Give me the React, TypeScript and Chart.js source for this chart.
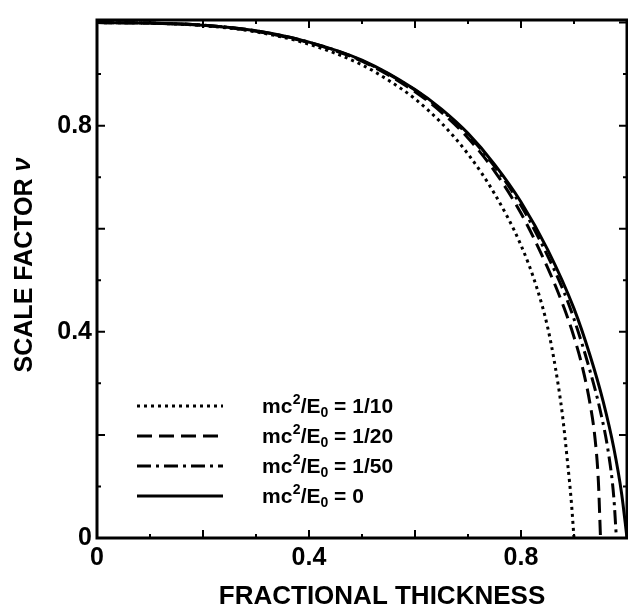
import { useEffect, useRef } from "react";
import { Chart, registerables } from "chart.js";

Chart.register(...registerables);

// ---- data ----
const seriesLabels = ["1/10", "1/20", "1/50", "0"];

const thicknessA = [0, 0.1, 0.2, 0.3, 0.4, 0.5, 0.55, 0.6, 0.65, 0.7, 0.75, 0.8, 0.83, 0.85, 0.865, 0.878, 0.888, 0.895, 0.9];
const scaleA = [1.0, 0.999, 0.994, 0.982, 0.958, 0.918, 0.888, 0.852, 0.805, 0.745, 0.668, 0.568, 0.485, 0.41, 0.33, 0.24, 0.145, 0.07, 0];

const thicknessB = [0, 0.1, 0.2, 0.3, 0.4, 0.5, 0.6, 0.65, 0.7, 0.75, 0.8, 0.85, 0.88, 0.9, 0.915, 0.93, 0.94, 0.946, 0.95];
const scaleB = [1.0, 0.999, 0.995, 0.983, 0.961, 0.925, 0.866, 0.826, 0.776, 0.712, 0.63, 0.525, 0.45, 0.39, 0.335, 0.262, 0.19, 0.11, 0];

const thicknessC = [0, 0.1, 0.2, 0.3, 0.4, 0.5, 0.6, 0.65, 0.7, 0.75, 0.8, 0.85, 0.88, 0.9, 0.93, 0.95, 0.965, 0.975, 0.98];
const scaleC = [1.0, 0.999, 0.995, 0.984, 0.962, 0.926, 0.869, 0.83, 0.782, 0.721, 0.645, 0.548, 0.48, 0.425, 0.325, 0.245, 0.165, 0.08, 0];

const thicknessD = [0, 0.1, 0.2, 0.3, 0.4, 0.5, 0.6, 0.65, 0.7, 0.75, 0.8, 0.85, 0.9, 0.93, 0.955, 0.975, 0.99, 1.0];
const scaleD = [1.0, 0.999, 0.995, 0.984, 0.962, 0.927, 0.87, 0.832, 0.785, 0.725, 0.652, 0.56, 0.445, 0.355, 0.265, 0.175, 0.085, 0];

const xTickLabels = [0, 0.4, 0.8];
const yTickLabels = [0, 0.4, 0.8];
const xTitle = "FRACTIONAL THICKNESS";
const yTitle = "SCALE FACTOR";
const yTitleSymbol = "\u03BD";

const dashes = [[3, 4], [15, 7], [14, 5, 3, 5], []];

const FONT = "'Liberation Sans', Arial, sans-serif";

function pts(xs: number[], ys: number[]) {
  return xs.map((x, i) => ({ x, y: ys[i] }));
}

const overlay = {
  id: "overlay",
  afterDraw(chart: any) {
    const { ctx, chartArea: a, scales } = chart;
    const xs = scales.x;
    const ys = scales.y;
    ctx.save();
    ctx.strokeStyle = "#000";
    ctx.fillStyle = "#000";
    ctx.lineWidth = 3;
    ctx.setLineDash([]);
    ctx.strokeRect(a.left, a.top, a.right - a.left, a.bottom - a.top);
    // inward ticks on all four sides
    ctx.lineWidth = 2;
    for (let i = 0; i <= 10; i++) {
      const v = i / 10;
      const len = i % 2 === 0 ? 8 : 4;
      const px = xs.getPixelForValue(v);
      const py = ys.getPixelForValue(v);
      ctx.beginPath();
      ctx.moveTo(px, a.bottom);
      ctx.lineTo(px, a.bottom - len);
      ctx.moveTo(px, a.top);
      ctx.lineTo(px, a.top + len);
      ctx.moveTo(a.left, py);
      ctx.lineTo(a.left + len, py);
      ctx.moveTo(a.right, py);
      ctx.lineTo(a.right - len, py);
      ctx.stroke();
    }
    // legend
    const rowTop = a.top + 386;
    const rowStep = 30;
    seriesLabels.forEach((lab, i) => {
      const ry = rowTop + i * rowStep;
      ctx.lineWidth = 3;
      ctx.setLineDash(dashes[i]);
      ctx.beginPath();
      ctx.moveTo(a.left + 40, ry);
      ctx.lineTo(a.left + 126, ry);
      ctx.stroke();
      ctx.setLineDash([]);
      let tx = a.left + 165;
      const base = ry + 7;
      ctx.textBaseline = "alphabetic";
      ctx.textAlign = "left";
      ctx.font = `bold 21px ${FONT}`;
      ctx.fillText("mc", tx, base);
      tx += ctx.measureText("mc").width;
      ctx.font = `bold 14px ${FONT}`;
      ctx.fillText("2", tx + 0.5, base - 9);
      tx += ctx.measureText("2").width + 0.5;
      ctx.font = `bold 21px ${FONT}`;
      ctx.fillText("/E", tx, base);
      tx += ctx.measureText("/E").width;
      ctx.font = `bold 14px ${FONT}`;
      ctx.fillText("0", tx, base + 4);
      tx += ctx.measureText("0").width;
      ctx.font = `bold 21px ${FONT}`;
      ctx.fillText(" = " + lab, tx, base);
    });
    // axis titles
    ctx.font = `bold 26px ${FONT}`;
    ctx.textAlign = "center";
    ctx.textBaseline = "middle";
    ctx.fillText(xTitle, 382, 597);
    ctx.translate(25, 265);
    ctx.rotate(-Math.PI / 2);
    ctx.font = `bold 25px ${FONT}`;
    const w1 = ctx.measureText(yTitle + " ").width;
    ctx.font = `bold italic 25px ${FONT}`;
    const w2 = ctx.measureText(yTitleSymbol).width;
    const start = -(w1 + w2) / 2;
    ctx.textAlign = "left";
    ctx.font = `bold 25px ${FONT}`;
    ctx.fillText(yTitle + " ", start, 0);
    ctx.font = `bold italic 25px ${FONT}`;
    ctx.fillText(yTitleSymbol, start + w1, -2);
    ctx.restore();
  },
};

function fmt(v: number) {
  return v === 0 ? "0" : String(v);
}

export default function App() {
  const ref = useRef<HTMLCanvasElement | null>(null);
  useEffect(() => {
    if (!ref.current) return;
    const series = [
      [thicknessA, scaleA],
      [thicknessB, scaleB],
      [thicknessC, scaleC],
      [thicknessD, scaleD],
    ];
    const chart = new Chart(ref.current, {
      type: "line",
      data: {
        datasets: series.map(([xs, ys], i) => ({
          label: "mc²/E₀ = " + seriesLabels[i],
          data: pts(xs, ys),
          borderColor: "#000",
          borderWidth: 3,
          borderDash: dashes[i],
          pointRadius: 0,
          fill: false,
          cubicInterpolationMode: "monotone",
        })),
      },
      options: {
        animation: false,
        responsive: true,
        maintainAspectRatio: false,
        layout: { padding: { top: 15, right: 1, left: 0, bottom: 0 } },
        plugins: { legend: { display: false }, tooltip: { enabled: false } },
        scales: {
          x: {
            type: "linear",
            min: 0,
            max: 1,
            grid: { display: false, drawTicks: false },
            border: { display: false },
            afterFit: (s: any) => {
              s.height = 76;
            },
            ticks: {
              stepSize: 0.1,
              autoSkip: false,
              maxRotation: 0,
              padding: 5,
              color: "#000",
              font: { family: FONT, size: 25, weight: "bold" },
              callback: (val: any) => {
                const v = Math.round(Number(val) * 10) / 10;
                return xTickLabels.includes(v) ? fmt(v) : null;
              },
            },
          },
          y: {
            type: "linear",
            min: 0,
            max: 1.005,
            grid: { display: false, drawTicks: false },
            border: { display: false },
            afterFit: (s: any) => {
              s.width = 97;
            },
            ticks: {
              stepSize: 0.1,
              autoSkip: false,
              padding: 5,
              color: "#000",
              font: { family: FONT, size: 25, weight: "bold" },
              callback: (val: any) => {
                const v = Math.round(Number(val) * 10) / 10;
                return yTickLabels.includes(v) ? fmt(v) : null;
              },
            },
          },
        },
      },
      plugins: [overlay],
    });
    return () => chart.destroy();
  }, []);
  return (
    <div style={{ position: "absolute", left: 0, top: 0, width: 628, height: 614, background: "#fff" }}>
      <canvas ref={ref} />
    </div>
  );
}
